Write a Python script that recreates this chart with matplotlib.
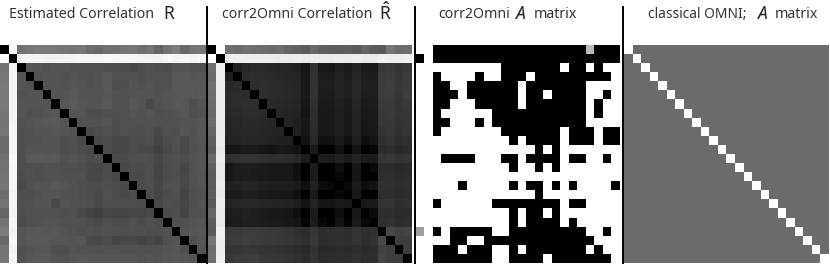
import numpy as np
import matplotlib
matplotlib.use('Agg')
import matplotlib.pyplot as plt
from matplotlib.lines import Line2D

# gray levels (upper triangle, each row starts right of the diagonal)
estimated_upper = [
    [255, 115, 118, 122, 122, 120, 118, 116, 118, 108, 106, 112, 114, 116, 118, 110, 116, 100, 116, 124, 106, 116, 118],
    [244, 244, 244, 242, 242, 244, 244, 246, 246, 246, 248, 246, 246, 246, 244, 244, 242, 246, 244, 246, 244, 246],
    [84, 84, 82, 84, 84, 82, 80, 80, 80, 78, 78, 76, 74, 78, 80, 78, 76, 84, 84, 80, 82],
    [82, 84, 84, 80, 84, 82, 80, 84, 88, 80, 80, 82, 78, 82, 80, 80, 86, 88, 84, 86],
    [84, 84, 82, 86, 84, 82, 84, 88, 78, 78, 84, 82, 84, 80, 82, 88, 88, 86, 88],
    [84, 84, 88, 84, 84, 84, 86, 82, 80, 84, 84, 84, 82, 84, 86, 88, 86, 90],
    [86, 90, 86, 84, 84, 88, 82, 82, 88, 84, 72, 82, 84, 88, 86, 78, 84],
    [84, 84, 78, 78, 82, 78, 80, 84, 82, 84, 78, 80, 84, 86, 78, 82],
    [82, 80, 80, 84, 78, 80, 82, 82, 82, 80, 80, 82, 84, 84, 86],
    [74, 76, 80, 76, 80, 78, 78, 80, 74, 80, 78, 86, 82, 88],
    [74, 76, 72, 72, 76, 76, 78, 68, 76, 80, 74, 82, 86],
    [78, 70, 72, 76, 74, 74, 64, 74, 78, 72, 80, 84],
    [76, 76, 78, 80, 78, 70, 78, 80, 76, 82, 86],
    [72, 76, 76, 78, 68, 76, 80, 70, 82, 86],
    [74, 74, 78, 68, 76, 78, 72, 82, 84],
    [76, 78, 70, 80, 80, 72, 82, 84],
    [76, 70, 76, 80, 68, 80, 82],
    [72, 80, 78, 72, 80, 84],
    [76, 78, 68, 80, 82],
    [82, 80, 84, 86],
    [84, 86, 88],
    [80, 86],
    [84],
]
corr2omni_upper = [
    [255, 112, 108, 112, 110, 108, 105, 108, 100, 98, 92, 105, 95, 92, 92, 95, 90, 100, 92, 90, 118, 108, 110],
    [240, 240, 238, 238, 238, 238, 236, 236, 238, 234, 238, 234, 234, 236, 234, 238, 234, 234, 240, 238, 238, 240],
    [32, 40, 42, 42, 40, 38, 36, 34, 22, 48, 24, 24, 32, 26, 36, 28, 26, 56, 58, 52, 56],
    [42, 44, 44, 42, 40, 38, 36, 24, 50, 28, 28, 34, 28, 38, 30, 28, 58, 60, 54, 60],
    [44, 46, 44, 42, 40, 38, 26, 50, 30, 30, 36, 30, 40, 32, 30, 60, 62, 56, 60],
    [46, 44, 42, 40, 38, 26, 50, 28, 28, 36, 30, 40, 30, 30, 60, 60, 54, 62],
    [42, 40, 38, 36, 22, 48, 26, 26, 32, 26, 38, 26, 28, 58, 58, 52, 56],
    [38, 36, 34, 20, 46, 24, 24, 30, 24, 36, 24, 26, 56, 58, 52, 54],
    [36, 32, 24, 46, 24, 24, 30, 24, 36, 24, 26, 56, 56, 50, 54],
    [32, 22, 44, 24, 24, 30, 24, 34, 22, 24, 52, 54, 48, 52],
    [18, 40, 16, 16, 26, 16, 30, 14, 20, 48, 50, 44, 48],
    [28, 0, 0, 16, 0, 20, 0, 6, 44, 46, 40, 44],
    [28, 28, 34, 26, 36, 28, 28, 54, 56, 50, 52],
    [0, 14, 0, 22, 0, 8, 44, 44, 40, 42],
    [8, 0, 22, 0, 0, 46, 46, 42, 44],
    [8, 26, 14, 20, 48, 48, 44, 46],
    [24, 0, 2, 46, 46, 42, 44],
    [24, 26, 52, 52, 46, 50],
    [10, 46, 46, 42, 44],
    [48, 50, 44, 46],
    [72, 66, 68],
    [62, 62],
    [60],
]
# '#' black, '.' white, 'a' and 'b' the two gray cells
A_rows = [
    '..##################a###',
    '#.######################',
    '..........#######.##.#..',
    '..#....#..###.#########.',
    '..##..######.#######....',
    '..###.######.##.####..#.',
    '..##...#####.#######.#..',
    '..#......###########.#..',
    '..##...#.###########....',
    '..#.......#######.###.##',
    '...........#.####.###.##',
    '..............#.#.......',
    '...####...##.####.##..#.',
    '...........#..#.#.......',
    '........................',
    '.....#.....#.##.#.#....#',
    '..............#.........',
    '..#......########.##....',
    '...........#.##.#.......',
    '...........#.####.#.....',
    'b.#.#####..#########..#.',
    '....##..#############...',
    '..###.###..#.#######.#..',
    '..#######..####.#######.',
]
A_levels = {'#': 0, '.': 255, 'a': 185, 'b': 160}
classical_off = 107
classical_diag = 255
n_vars = 24

W, H = 830, 264
panels = [(0, 205), (208, 412), (416, 620), (624, 829)]
top, bottom = 45, 263
line_x = [207, 415, 623]


def sym(upper):
    m = np.zeros((n_vars, n_vars))
    for i, row in enumerate(upper):
        m[i, i + 1:] = row
        m[i + 1:, i] = row
    return m


classical = np.full((n_vars, n_vars), classical_off, dtype=float)
np.fill_diagonal(classical, classical_diag)
A = np.array([[A_levels[c] for c in row] for row in A_rows], dtype=float)
mats = [sym(estimated_upper), sym(corr2omni_upper), A, classical]

plt.rcParams['font.family'] = ['Noto Sans', 'DejaVu Sans']
plt.rcParams['mathtext.fontset'] = 'dejavusans'
plt.rcParams['mathtext.default'] = 'regular'
fig = plt.figure(figsize=(W / 100, H / 100), dpi=100)

for (x0, x1), m in zip(panels, mats):
    ax = fig.add_axes([x0 / W, 1 - bottom / H, (x1 - x0) / W, (bottom - top) / H])
    ax.imshow(m, cmap='gray', vmin=0, vmax=255, aspect='auto', interpolation='nearest')
    ax.axis('off')

for x in line_x:
    fig.add_artist(Line2D([x / W, x / W], [0, 1 - 7 / H], color='black', lw=1.4))

tc = '#333333'
fs = 10.2
big = 12.5
ty = 1 - 14 / H
fig.text(9 / W, ty, 'Estimated Correlation', fontsize=fs, color=tc, va='center')
fig.text(163 / W, ty, 'R', fontsize=big, color='#222222', va='center')
fig.text(222 / W, ty, 'corr2Omni Correlation', fontsize=fs, color=tc, va='center')
fig.text(379 / W, 1 - 19.5 / H, r'$\hat{R}$', fontsize=big, color='#222222', va='baseline')
fig.text(438 / W, ty, 'corr2Omni', fontsize=fs, color=tc, va='center')
fig.text(516 / W, ty, 'A', fontsize=big, color='#222222', va='center', style='italic')
fig.text(534 / W, ty, 'matrix', fontsize=fs, color=tc, va='center')
fig.text(648 / W, ty, 'classical OMNI;', fontsize=fs * 0.97, color=tc, va='center')
fig.text(758 / W, ty, 'A', fontsize=big, color='#222222', va='center', style='italic')
fig.text(775 / W, ty, 'matrix', fontsize=fs, color=tc, va='center')

fig.savefig('out.png', dpi=100)
